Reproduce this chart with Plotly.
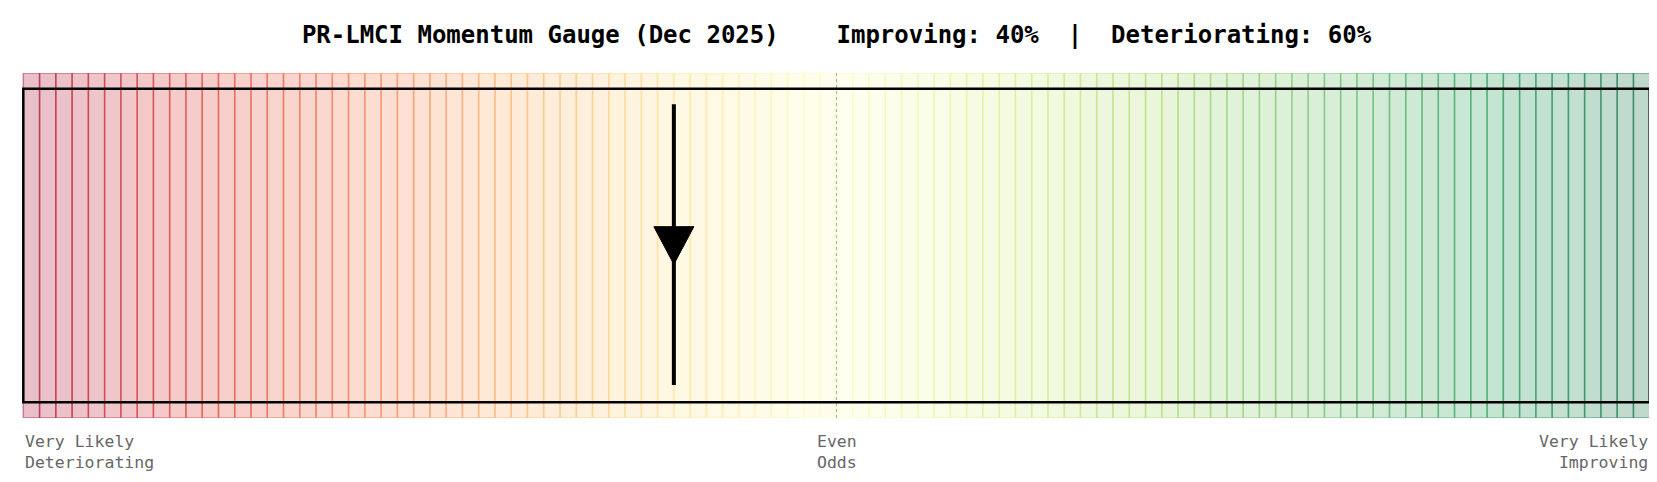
import plotly.graph_objects as go
from plotly.colors import sample_colorscale

n_cells = 100
improving_pct = 40
deteriorating_pct = 60
title = "PR-LMCI Momentum Gauge (Dec 2025)    Improving: 40%  |  Deteriorating: 60%"
labels = ["Very Likely<br>Deteriorating", "Even<br>Odds", "Very Likely<br>Improving"]
label_x = [0, 50, 100]

def rgba(c, a):
    c = c.replace("rgb(", "").replace(")", "")
    r, g, b = [float(v) for v in c.split(",")]
    return f"rgba({int(r)},{int(g)},{int(b)},{a})"

cols = sample_colorscale("RdYlGn", [(i + 0.5) / n_cells for i in range(n_cells)])
shapes = []
for i, c in enumerate(cols):
    shapes.append(dict(type="rect", x0=i, x1=i + 1, y0=-0.05, y1=1.05,
                       fillcolor=rgba(c, 0.25), line=dict(color=rgba(c, 0.45), width=1.5), layer="below"))
shapes.append(dict(type="line", x0=50, x1=50, y0=-0.05, y1=1.05,
                   line=dict(color="rgba(120,120,120,0.6)", width=1, dash="dot")))
shapes.append(dict(type="rect", x0=0, x1=100, y0=0, y1=1, line=dict(color="black", width=2.5)))
shapes.append(dict(type="line", x0=improving_pct, x1=improving_pct, y0=0.055, y1=0.95,
                   line=dict(color="black", width=4)))

fig = go.Figure()
hw = 1.23
fig.add_trace(go.Scatter(x=[improving_pct - hw, improving_pct + hw, improving_pct, improving_pct - hw],
                         y=[0.56, 0.56, 0.44, 0.56], fill="toself", fillcolor="black",
                         line=dict(color="black", width=1), mode="lines", hoverinfo="skip"))

anns = []
for lx, lt in zip(label_x, labels):
    anns.append(dict(x=lx, y=-0.035, xref="x", yref="paper", text=lt, showarrow=False,
                     xanchor="left" if lx == 0 else ("right" if lx == 100 else "center"),
                     yanchor="top", align="left" if lx == 0 else ("right" if lx == 100 else "left"),
                     font=dict(family="DejaVu Sans Mono", size=16.5, color="#666666")))

fig.update_layout(
    width=1657, height=482, showlegend=False, plot_bgcolor="white", paper_bgcolor="white",
    margin=dict(l=14, r=14, t=65, b=72),
    title=dict(text=f"<b>{title}</b>", x=0.5, y=0.945, xanchor="center", yanchor="middle",
               font=dict(family="DejaVu Sans Mono", size=24, color="black")),
    xaxis=dict(range=[-0.08, 100.08], visible=False, fixedrange=True),
    yaxis=dict(range=[-0.05, 1.05], visible=False, fixedrange=True),
    shapes=shapes, annotations=anns,
)
fig.write_html("out.html")
